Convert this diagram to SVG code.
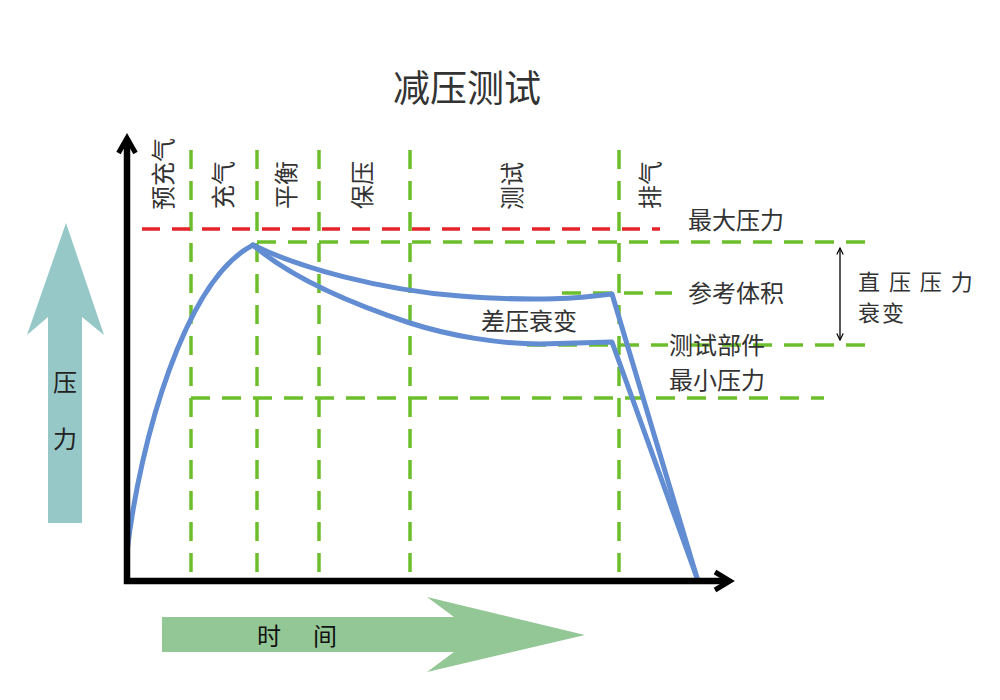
<svg xmlns="http://www.w3.org/2000/svg" width="1000" height="700" viewBox="0 0 1000 700">
<style>
text{font-family:"Noto Sans CJK SC","Noto Sans",sans-serif;fill:#333;}
.lbl{font-size:24px;dominant-baseline:central;}
.vl{font-size:24px;dominant-baseline:central;text-anchor:middle;}
.g{stroke:#6CBE2D;stroke-width:3.5;fill:none;stroke-dasharray:19 12;}
.r{stroke:#E5232A;stroke-width:3.5;fill:none;stroke-dasharray:18 12;}
.b{stroke:#628DD2;stroke-width:5;fill:none;stroke-linejoin:round;stroke-linecap:round;}
.ax{stroke:#000;fill:none;}
</style>
<defs>
<marker id="ah" viewBox="0 0 10 10" refX="9" refY="5" markerWidth="8" markerHeight="8" orient="auto-start-reverse" markerUnits="userSpaceOnUse">
<path d="M1,1 L9,5 L1,9" fill="none" stroke="#000" stroke-width="1.5"/>
</marker>
</defs>
<rect width="1000" height="700" fill="#fff"/>
<g id="title"><text x="467" y="86" font-size="37" text-anchor="middle" dominant-baseline="central">减压测试</text></g>
<g id="pressure-arrow">
<path d="M66,223 L104,335 L82,317 L82,523 L48,523 L48,317 L27,335 Z" fill="#96C8C8"/>
<text x="65" y="380" class="vl" style="fill:#222">压</text>
<text x="65" y="437" class="vl" style="fill:#222">力</text>
</g>
<g id="time-arrow">
<path d="M162,617 L454,617 L427,597 L585,635 L427,672 L454,652 L162,652 Z" fill="#94C796"/>
<text x="269" y="634" class="vl" style="fill:#111">时</text>
<text x="325" y="634" class="vl" style="fill:#111">间</text>
</g>
<g id="phase-lines">
<line x1="191" y1="150" x2="191" y2="576" class="g"/>
<line x1="257" y1="150" x2="257" y2="576" class="g"/>
<line x1="319" y1="150" x2="319" y2="576" class="g"/>
<line x1="410" y1="150" x2="410" y2="576" class="g"/>
<line x1="619" y1="150" x2="619" y2="576" class="g"/>
</g>
<g id="level-lines">
<line x1="142" y1="229" x2="660" y2="229" class="r"/>
<line x1="257" y1="242" x2="866" y2="242" class="g"/>
<line x1="562" y1="293" x2="672" y2="293" class="g"/>
<line x1="527" y1="345" x2="668" y2="345" class="g"/>
<line x1="691" y1="345" x2="875" y2="345" class="g"/>
<line x1="191" y1="398" x2="824" y2="398" class="g"/>
</g>
<g id="phase-labels">
<text class="vl" transform="translate(161,174) rotate(-90)">预充气</text>
<text class="vl" transform="translate(221,185) rotate(-90)">充气</text>
<text class="vl" transform="translate(284,185) rotate(-90)">平衡</text>
<text class="vl" transform="translate(360,185) rotate(-90)">保压</text>
<text class="vl" transform="translate(510,186) rotate(-90)">测试</text>
<text class="vl" transform="translate(648,185) rotate(-90)">排气</text>
</g>
<g id="connectors">
<path class="b" d="M127,552 C140,440 185,280 253,245 C300,268 380,290 460,296 C540,302 580,298 612,294 L697,578"/>
<path class="b" d="M253,245 C288,275 340,300 410,323 C450,336 500,344 540,344 L612,342 L697,578"/>
<line x1="840" y1="248" x2="840" y2="340" stroke="#222" stroke-width="1.5" marker-start="url(#ah)" marker-end="url(#ah)"/>
</g>
<g id="axes">
<path class="ax" d="M127,140 L127,581 L728,581" stroke-width="6.5"/>
<polyline class="ax" points="118.5,153 127,138 135.5,153" stroke-width="5"/>
<polyline class="ax" points="715,572 730,581 715,590" stroke-width="5"/>
</g>
<g id="level-labels">
<text x="688" y="218" class="lbl">最大压力</text>
<text x="688" y="291" class="lbl">参考体积</text>
<text x="669" y="343" class="lbl">测试部件</text>
<text x="669" y="378" class="lbl">最小压力</text>
<text x="481" y="319" class="lbl">差压衰变</text>
<text x="858" y="280" font-size="22" letter-spacing="2" dominant-baseline="central">直 压 压 力</text>
<text x="858" y="311" font-size="22" letter-spacing="2" dominant-baseline="central">衰变</text>
</g>
</svg>
